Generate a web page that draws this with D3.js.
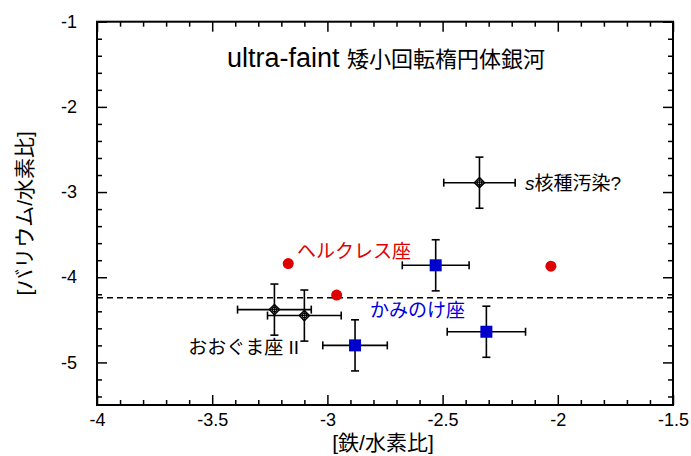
<!DOCTYPE html>
<html><head><meta charset="utf-8">
<script src="https://cdn.jsdelivr.net/npm/d3@7"></script>
<style>
body{margin:0;background:#fff;}
text{font-family:"Liberation Sans","Noto Sans CJK JP",sans-serif;}
.jp{font-family:"Noto Sans CJK JP","Liberation Sans",sans-serif;}
</style></head>
<body><svg id="c" width="691" height="456"></svg>
<script>
// ---- data ----
const xTicks = [-4, -3.5, -3, -2.5, -2, -1.5];
const yTicks = [-1, -2, -3, -4, -5];
const ursaX = [-3.23, -3.10];
const ursaY = [-4.38, -4.45];
const ursaXErr = [0.16, 0.16];
const ursaYErr = [0.30, 0.30];
const sX = [-2.34];
const sY = [-2.89];
const sXErr = [0.155];
const sYErr = [0.30];
const comaX = [-2.53, -2.88, -2.31];
const comaY = [-3.86, -4.80, -4.64];
const comaXErr = [0.145, 0.14, 0.17];
const comaYErr = [0.30, 0.30, 0.30];
const herX = [-3.17, -2.96, -2.03];
const herY = [-3.84, -4.21, -3.87];
const limitY = -4.24;

const W = 691, H = 456;
const m = {left: 97, right: 18, top: 21.7, bottom: 51};
const svg = d3.select("#c");
const x = d3.scaleLinear().domain([-4, -1.5]).range([m.left, W - m.right]);
const y = d3.scaleLinear().domain([-5.5, -1]).range([H - m.bottom, m.top]);
const x0 = m.left, x1 = W - m.right, y0 = H - m.bottom, y1 = m.top;

const fmt = d => String(d);
const xMinor = d3.range(-4, -1.5 + 1e-9, 0.1).map(v => +v.toFixed(2)).filter(v => !xTicks.some(t => Math.abs(t - v) < 1e-6));
const yMinor = d3.range(-5.4, -1 + 1e-9, 0.2).map(v => +v.toFixed(2)).filter(v => !yTicks.some(t => Math.abs(t - v) < 1e-6));

function styleAxis(g){ g.select(".domain").remove(); g.selectAll("line").attr("stroke","#000").attr("stroke-width",1.5); }

// bottom
svg.append("g").attr("transform",`translate(0,${y0})`)
  .call(d3.axisBottom(x).tickValues(xTicks).tickSize(-10).tickPadding(8).tickFormat(fmt))
  .call(styleAxis).call(g=>g.selectAll("text").attr("font-size",18).attr("fill","#000"));
svg.append("g").attr("transform",`translate(0,${y0})`)
  .call(d3.axisBottom(x).tickValues(xMinor).tickSize(-5).tickFormat(""))
  .call(styleAxis);
// top
svg.append("g").attr("transform",`translate(0,${y1})`)
  .call(d3.axisTop(x).tickValues(xTicks).tickSize(-10).tickFormat(""))
  .call(styleAxis);
svg.append("g").attr("transform",`translate(0,${y1})`)
  .call(d3.axisTop(x).tickValues(xMinor).tickSize(-5).tickFormat(""))
  .call(styleAxis);
// left
svg.append("g").attr("transform",`translate(${x0},0)`)
  .call(d3.axisLeft(y).tickValues(yTicks).tickSize(-10).tickPadding(20).tickFormat(fmt))
  .call(styleAxis).call(g=>g.selectAll("text").attr("font-size",18).attr("fill","#000"));
svg.append("g").attr("transform",`translate(${x0},0)`)
  .call(d3.axisLeft(y).tickValues(yMinor).tickSize(-5).tickFormat(""))
  .call(styleAxis);
// right
svg.append("g").attr("transform",`translate(${x1},0)`)
  .call(d3.axisRight(y).tickValues(yTicks).tickSize(-10).tickFormat(""))
  .call(styleAxis);
svg.append("g").attr("transform",`translate(${x1},0)`)
  .call(d3.axisRight(y).tickValues(yMinor).tickSize(-5).tickFormat(""))
  .call(styleAxis);

// frame
svg.append("rect").attr("x",x0).attr("y",y1).attr("width",x1-x0).attr("height",y0-y1)
  .attr("fill","none").attr("stroke","#000").attr("stroke-width",2);

// limit line
svg.append("line").attr("x1",x0).attr("x2",x1).attr("y1",y(limitY)).attr("y2",y(limitY))
  .attr("stroke","#000").attr("stroke-width",1.5).attr("stroke-dasharray","6,4");

// error bars
function errBars(xs, ys, xe, ye){
  const g = svg.append("g").attr("stroke","#000").attr("stroke-width",1.6);
  xs.forEach((v,i)=>{
    const cx = x(v), cy = y(ys[i]);
    const xl = x(v - xe[i]), xr = x(v + xe[i]);
    const yt = y(ys[i] + ye[i]), yb = y(ys[i] - ye[i]);
    g.append("line").attr("x1",xl).attr("x2",xr).attr("y1",cy).attr("y2",cy);
    g.append("line").attr("x1",cx).attr("x2",cx).attr("y1",yt).attr("y2",yb);
    g.append("line").attr("x1",xl).attr("x2",xl).attr("y1",cy-4).attr("y2",cy+4);
    g.append("line").attr("x1",xr).attr("x2",xr).attr("y1",cy-4).attr("y2",cy+4);
    g.append("line").attr("x1",cx-4).attr("x2",cx+4).attr("y1",yt).attr("y2",yt);
    g.append("line").attr("x1",cx-4).attr("x2",cx+4).attr("y1",yb).attr("y2",yb);
  });
}
errBars(ursaX, ursaY, ursaXErr, ursaYErr);
errBars(sX, sY, sXErr, sYErr);
errBars(comaX, comaY, comaXErr, comaYErr);

// diamonds
function diamonds(xs, ys){
  xs.forEach((v,i)=>{
    const cx = x(v), cy = y(ys[i]);
    svg.append("path").attr("d",`M${cx},${cy-5}L${cx+5},${cy}L${cx},${cy+5}L${cx-5},${cy}Z`)
      .attr("fill","#fff").attr("stroke","#000").attr("stroke-width",1.6);
    svg.append("circle").attr("cx",cx).attr("cy",cy).attr("r",2.2)
      .attr("fill","#fff").attr("stroke","#000").attr("stroke-width",1.2);
    svg.append("line").attr("x1",cx-5).attr("x2",cx+5).attr("y1",cy).attr("y2",cy).attr("stroke","#000").attr("stroke-width",1);
    svg.append("line").attr("x1",cx).attr("x2",cx).attr("y1",cy-5).attr("y2",cy+5).attr("stroke","#000").attr("stroke-width",1);
  });
}
diamonds(ursaX, ursaY);
diamonds(sX, sY);

// squares
svg.append("g").selectAll("rect").data(comaX).join("rect")
  .attr("x",(d)=>x(d)-6).attr("y",(d,i)=>y(comaY[i])-6).attr("width",12).attr("height",12)
  .attr("fill","#0000cc");

// red dots
svg.append("g").selectAll("circle").data(herX).join("circle")
  .attr("cx",d=>x(d)).attr("cy",(d,i)=>y(herY[i])).attr("r",5.5).attr("fill","#dd0000");

// labels
svg.append("text").attr("x",386).attr("y",67).attr("text-anchor","middle")
  .call(t=>{
    t.append("tspan").attr("font-size",27).text("ultra-faint ");
    t.append("tspan").attr("class","jp").attr("font-size",22).text("矮小回転楕円体銀河");
  });
const lbl = (txt, xv, yv, color) => svg.append("text").attr("x",x(xv)).attr("y",y(yv))
  .attr("dominant-baseline","central").attr("font-size",19).attr("fill",color).text(txt);
lbl("ヘルクレス座", -3.132, -3.70, "#dd0000");
lbl("かみのけ座", -2.815, -4.395, "#0000dd");
lbl("おおぐま座 II", -3.604, -4.83, "#000");
svg.append("text").attr("x",x(-2.142)).attr("y",y(-2.893)).attr("dominant-baseline","central")
  .attr("font-size",19).call(t=>{
    t.append("tspan").attr("font-style","italic").text("s");
    t.append("tspan").text("核種汚染?");
  });

// axis titles
svg.append("text").attr("x",(x0+x1)/2 - 2).attr("y",442).attr("text-anchor","middle")
  .attr("dominant-baseline","central").attr("font-size",21).text("[鉄/水素比]");
svg.append("text").attr("transform",`translate(24,${(y0+y1)/2}) rotate(-90)`).attr("text-anchor","middle")
  .attr("dominant-baseline","central").attr("font-size",21).text("[バリウム/水素比]");
</script></body></html>
